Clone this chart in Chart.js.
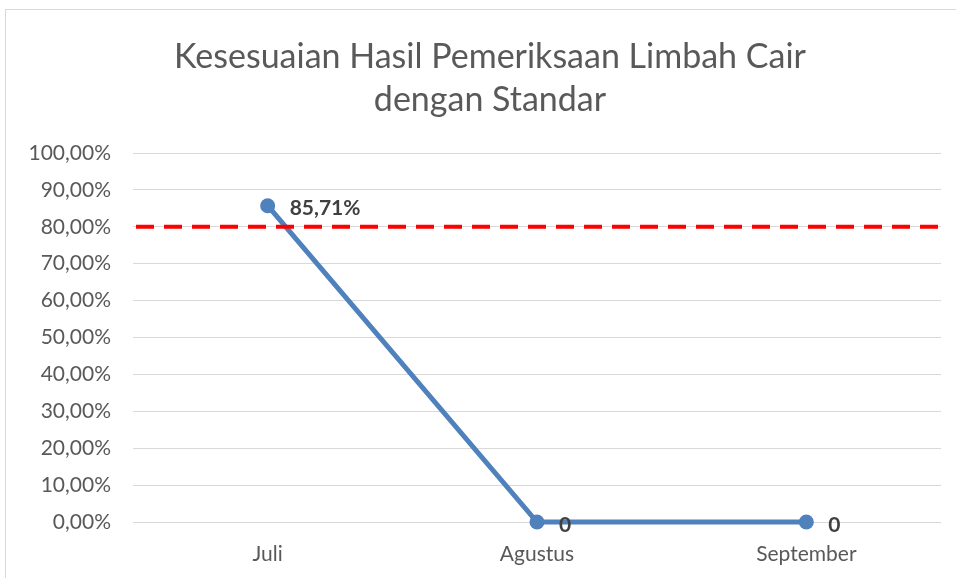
<!DOCTYPE html>
<html>
<head>
<meta charset="utf-8">
<script src="https://cdn.jsdelivr.net/npm/chart.js@4.4.0/dist/chart.umd.min.js"></script>
<style>
    html, body { margin: 0; padding: 0; background: #fff; overflow: hidden; }
    #frame { position: absolute; left: 5px; top: 9px; width: 1200px; height: 1200px; border: 1px solid #d9d9d9; }
    #wrap { position: absolute; left: 0; top: 0; width: 956px; height: 578px; }
</style>
</head>
<body>
<div id="frame"></div>
<div id="wrap"><canvas id="kesesuaianChart" width="956" height="578"></canvas></div>
<script>
// data
var bulan = ['Juli', 'Agustus', 'September'];
var persenSesuai = [85.71, 0, 0];
var labelNilai = ['85,71%', '0', '0'];
var standar = [80];
var judul = ['Kesesuaian Hasil Pemeriksaan Limbah Cair', 'dengan Standar'];

var fontUtama = 'Lato, "Open Sans", sans-serif';

// garis standar merah putus-putus
var garisStandar = {
    id: 'garisStandar',
    afterDatasetsDraw: function (chart) {
        var ctx = chart.ctx;
        var area = chart.chartArea;
        var y = chart.scales.y.getPixelForValue(standar[0]);
        ctx.save();
        ctx.strokeStyle = '#ff0000';
        ctx.lineWidth = 4;
        ctx.setLineDash([18, 10]);
        ctx.beginPath();
        ctx.moveTo(area.left + 3, y);
        ctx.lineTo(area.right - 3, y);
        ctx.stroke();
        ctx.restore();
    }
};

// label nilai di samping titik
var labelTitik = {
    id: 'labelTitik',
    afterDraw: function (chart) {
        var ctx = chart.ctx;
        var meta = chart.getDatasetMeta(0);
        ctx.save();
        ctx.font = 'bold 21px ' + fontUtama;
        ctx.fillStyle = '#404040';
        ctx.textBaseline = 'middle';
        ctx.textAlign = 'left';
        meta.data.forEach(function (pt, i) {
            ctx.fillText(labelNilai[i], pt.x + 22, pt.y + 3);
        });
        ctx.restore();
    }
};

// judul
var judulChart = {
    id: 'judulChart',
    afterDraw: function (chart) {
        var ctx = chart.ctx;
        ctx.save();
        ctx.font = '34px ' + fontUtama;
        ctx.fillStyle = '#595959';
        ctx.textAlign = 'center';
        ctx.textBaseline = 'middle';
        ctx.fillText(judul[0], 490, 57);
        ctx.fillText(judul[1], 490, 100);
        ctx.restore();
    }
};

var ctx = document.getElementById('kesesuaianChart').getContext('2d');

var chart = new Chart(ctx, {
    type: 'line',
    data: {
        labels: bulan,
        datasets: [{
            label: 'Kesesuaian',
            data: persenSesuai,
            borderColor: '#4f81bd',
            backgroundColor: '#4f81bd',
            borderWidth: 5,
            pointRadius: 7.5,
            pointHoverRadius: 7.5,
            pointBackgroundColor: '#4f81bd',
            pointBorderWidth: 0,
            fill: false,
            clip: false,
            tension: 0
        }]
    },
    options: {
        responsive: false,
        animation: false,
        layout: {
            padding: { top: 153, right: 15, left: 0, bottom: 0 }
        },
        plugins: {
            legend: { display: false },
            title: { display: false },
            tooltip: { enabled: false }
        },
        scales: {
            x: {
                type: 'category',
                offset: true,
                grid: { display: false, drawTicks: false },
                border: { display: false },
                ticks: {
                    color: '#595959',
                    font: { size: 21, family: fontUtama },
                    padding: 20
                },
                afterFit: function (scale) { scale.height = 56; }
            },
            y: {
                min: 0,
                max: 100,
                ticks: {
                    stepSize: 10,
                    color: '#595959',
                    font: { size: 21, family: fontUtama },
                    padding: 22,
                    callback: function (v) {
                        return v.toFixed(2).replace('.', ',') + '%';
                    }
                },
                grid: { color: '#d9d9d9', lineWidth: 1, drawTicks: false },
                border: { display: false },
                afterFit: function (scale) { scale.width = 133; }
            }
        }
    },
    plugins: [garisStandar, labelTitik, judulChart]
});
</script>
</body>
</html>
